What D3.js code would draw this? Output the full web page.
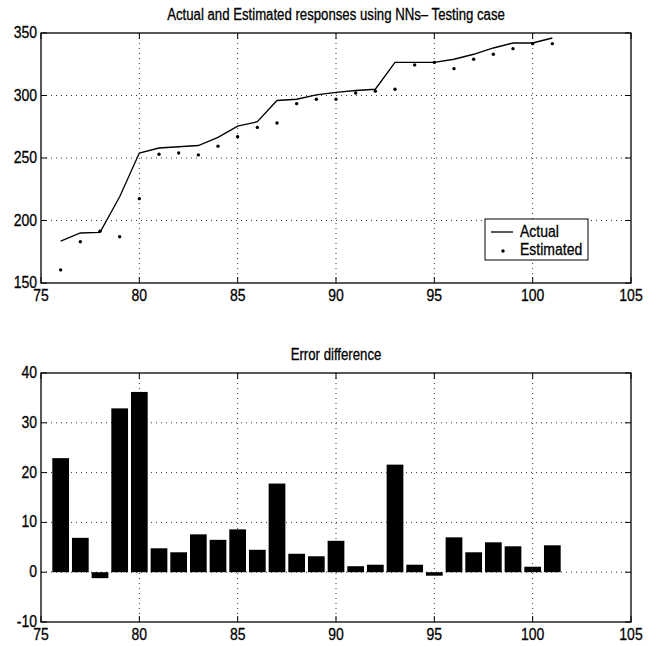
<!DOCTYPE html>
<html>
<head>
<meta charset="utf-8">
<script src="https://cdn.jsdelivr.net/npm/d3@7"></script>
<style>
html,body{margin:0;padding:0;background:#fff}
svg{display:block}
</style>
</head>
<body>
<div id="chart"></div>
<script>
// data
var years=[76,77,78,79,80,81,82,83,84,85,86,87,88,89,90,91,92,93,94,95,96,97,98,99,100,101];
var actual=[183.5,190,190.5,219,254,258,259,260,266.5,275.5,279,296,297,300.5,302.5,304,305,326.5,326.5,326.5,329,333,338,342,342,346];
var estimated=[160.5,183,191.5,187,217.5,253,254,252.5,259.5,267,274.5,278,293.5,297,297,302,303.5,305,324.5,326.5,321.5,329,333,337.5,341.5,341.5];
var errDiff=[22.9,6.9,-1.2,32.9,36.2,4.8,4.0,7.6,6.5,8.6,4.5,17.8,3.7,3.2,6.3,1.2,1.5,21.6,1.5,-0.7,7.0,4.0,6.0,5.2,1.1,5.4];
var xTicks=[75,80,85,90,95,100,105];
var yTicksTop=[150,200,250,300,350];
var yTicksBot=[-10,0,10,20,30,40];

var W=649,H=646;
var F='"Liberation Sans Narrow","Arial Narrow","Liberation Sans",Arial,sans-serif';
var svg=d3.select('#chart').append('svg').attr('width',W).attr('height',H);

var x=d3.scaleLinear().domain([75,105]).range([41,631]);
var yTop=d3.scaleLinear().domain([150,350]).range([283,33]);
var yBot=d3.scaleLinear().domain([-10,40]).range([622,373]);

function txt(px,py,t,size,anchor){
  // reference glyphs are tall, narrow and a bit heavy: stretch vertically + thin stroke
  return svg.append('text').attr('transform','translate('+px+','+py+') scale(1,1.18)')
    .attr('text-anchor',anchor||'middle').attr('font-family',F).attr('font-size',size)
    .attr('fill','#000').attr('stroke','#000').attr('stroke-width',0.25).text(t);
}

function panel(y,yTicks,title,titleY){
  var y0=y.range()[1], y1=y.range()[0], x0=x.range()[0], x1=x.range()[1];
  var g=svg.append('g');
  // dotted grid
  xTicks.slice(1,-1).forEach(function(t){
    g.append('line').attr('x1',x(t)).attr('x2',x(t)).attr('y1',y0).attr('y2',y1)
      .attr('stroke','#333').attr('stroke-width',1).attr('stroke-dasharray','1,4');
  });
  yTicks.slice(1,-1).forEach(function(t){
    g.append('line').attr('x1',x0).attr('x2',x1).attr('y1',y(t)).attr('y2',y(t))
      .attr('stroke','#333').attr('stroke-width',1).attr('stroke-dasharray','1,4');
  });
  // box
  g.append('rect').attr('x',x0).attr('y',y0).attr('width',x1-x0).attr('height',y1-y0)
    .attr('fill','none').attr('stroke','#000').attr('stroke-width',1.3);
  // inward ticks
  xTicks.forEach(function(t){
    g.append('line').attr('x1',x(t)).attr('x2',x(t)).attr('y1',y1).attr('y2',y1-6).attr('stroke','#000');
    g.append('line').attr('x1',x(t)).attr('x2',x(t)).attr('y1',y0).attr('y2',y0+6).attr('stroke','#000');
    txt(x(t),y1+18,t,14,'middle');
  });
  yTicks.forEach(function(t){
    g.append('line').attr('x1',x0).attr('x2',x0+6).attr('y1',y(t)).attr('y2',y(t)).attr('stroke','#000');
    g.append('line').attr('x1',x1).attr('x2',x1-6).attr('y1',y(t)).attr('y2',y(t)).attr('stroke','#000');
    txt(x0-4,y(t)+5,t,14,'end');
  });
  txt((x0+x1)/2,titleY,title,13.2,'middle');
}

panel(yTop,yTicksTop,'Actual and Estimated responses using NNs\u2013 Testing case',20);
panel(yBot,yTicksBot,'Error difference',360);

// top: actual line + estimated dots
var line=d3.line().x(function(d,i){return x(years[i])}).y(function(d){return yTop(d)});
svg.append('path').datum(actual).attr('d',line).attr('fill','none').attr('stroke','#000').attr('stroke-width',1.3);
svg.append('g').selectAll('circle').data(estimated).join('circle')
  .attr('cx',function(d,i){return x(years[i])}).attr('cy',function(d){return yTop(d)})
  .attr('r',1.7).attr('fill','#000');

// legend
var lg=svg.append('g');
lg.append('rect').attr('x',485).attr('y',219).attr('width',103).attr('height',41).attr('fill','#fff').attr('stroke','#000').attr('stroke-width',1);
lg.append('line').attr('x1',491).attr('x2',513).attr('y1',232).attr('y2',232).attr('stroke','#000').attr('stroke-width',1.3);
lg.append('circle').attr('cx',503).attr('cy',251).attr('r',1.7).attr('fill','#000');
txt(520,237,'Actual',14,'start');
txt(520,255,'Estimated',14,'start');

// bottom: error bars
var bw=0.85*(x(1)-x(0));
svg.append('g').selectAll('rect').data(errDiff).join('rect')
  .attr('x',function(d,i){return x(years[i])-bw/2})
  .attr('y',function(d){return yBot(Math.max(0,d))})
  .attr('width',bw)
  .attr('height',function(d){return Math.abs(yBot(d)-yBot(0))})
  .attr('fill','#000');
</script>
</body>
</html>
